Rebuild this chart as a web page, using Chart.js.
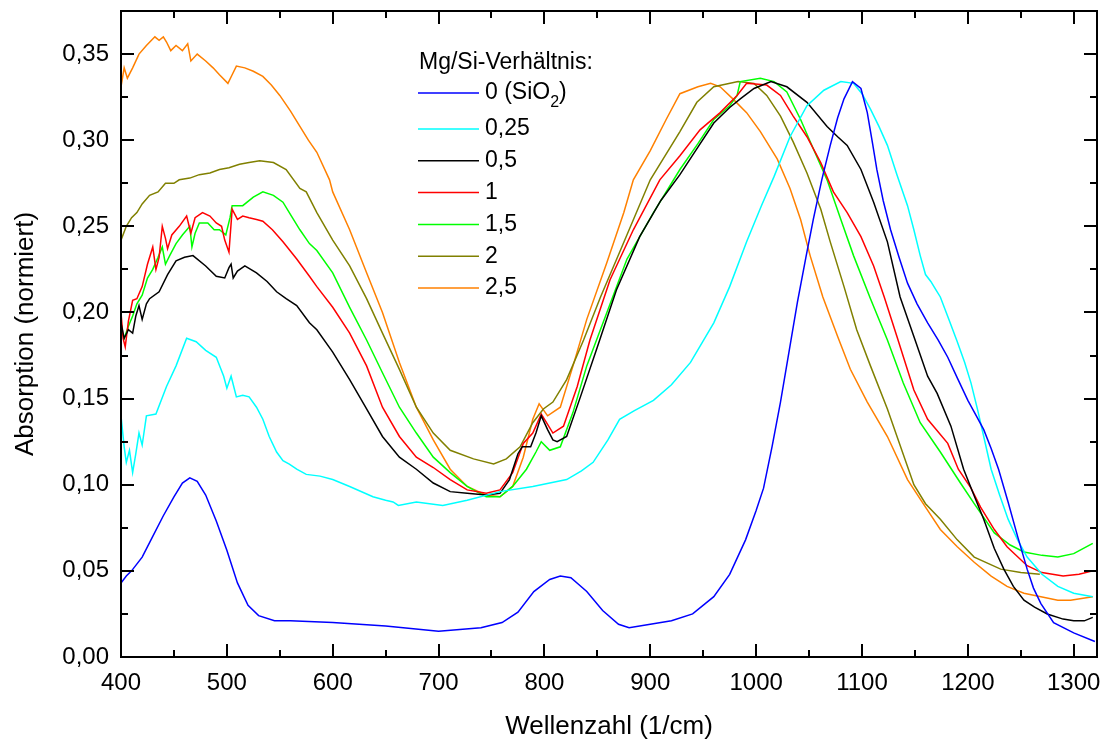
<!DOCTYPE html>
<html>
<head>
<meta charset="utf-8">
<script src="https://cdn.jsdelivr.net/npm/chart.js@4.4.0/dist/chart.umd.min.js"></script>
<style>
  body { margin: 0; background: #fff; }
  canvas { display: block; }
</style>
</head>
<body>
<canvas id="chart" width="1104" height="742"></canvas>
<script>
// Mg/Si ratio series
const seriesLabels = ['0 (SiO₂)', '0,25', '0,5', '1', '1,5', '2', '2,5'];
const seriesColors = ['#0000ff', '#00ffff', '#000000', '#ff0000', '#00ff00', '#808000', '#ff8000'];

const sio2X = [400, 405, 410, 420, 430, 440, 450, 458, 465, 472, 480, 490, 500, 510, 520, 530, 545, 560, 600, 650, 700, 740, 760, 775, 790, 805, 815, 825, 840, 855, 870, 880, 900, 920, 940, 960, 975, 990, 1000, 1007, 1015, 1023, 1031, 1039, 1047, 1054, 1062, 1070, 1077, 1083, 1091, 1099, 1105, 1110, 1114, 1120, 1127, 1135, 1143, 1152, 1162, 1172, 1181, 1190, 1200, 1208, 1215, 1222, 1229, 1238, 1247, 1256, 1262, 1269, 1281, 1300, 1320];
const sio2Y = [0.043, 0.047, 0.050, 0.058, 0.070, 0.082, 0.093, 0.101, 0.104, 0.102, 0.094, 0.079, 0.062, 0.043, 0.030, 0.024, 0.021, 0.021, 0.020, 0.018, 0.015, 0.017, 0.020, 0.026, 0.038, 0.045, 0.047, 0.046, 0.038, 0.027, 0.019, 0.017, 0.019, 0.021, 0.025, 0.035, 0.048, 0.068, 0.085, 0.098, 0.122, 0.148, 0.177, 0.206, 0.232, 0.254, 0.277, 0.297, 0.313, 0.324, 0.334, 0.330, 0.316, 0.298, 0.283, 0.265, 0.248, 0.232, 0.217, 0.205, 0.194, 0.184, 0.174, 0.162, 0.149, 0.140, 0.132, 0.121, 0.109, 0.090, 0.070, 0.051, 0.040, 0.031, 0.020, 0.014, 0.009];

const r025X = [400, 403, 405, 408, 411, 414, 417, 420, 424, 433, 443, 452, 462, 471, 480, 490, 497, 500, 504, 509, 515, 521, 528, 534, 540, 547, 553, 559, 566, 575, 588, 600, 616, 638, 650, 657, 662, 679, 704, 727, 758, 789, 821, 835, 846, 860, 871, 885, 903, 920, 938, 960, 975, 991, 1005, 1017, 1032, 1048, 1064, 1080, 1092, 1100, 1108, 1116, 1124, 1133, 1143, 1149, 1155, 1160, 1165, 1170, 1174, 1182, 1190, 1197, 1203, 1209, 1215, 1222, 1230, 1238, 1247, 1256, 1270, 1285, 1300, 1318];
const r025Y = [0.140, 0.122, 0.113, 0.120, 0.107, 0.118, 0.130, 0.123, 0.140, 0.141, 0.157, 0.169, 0.185, 0.183, 0.178, 0.174, 0.163, 0.156, 0.163, 0.151, 0.152, 0.151, 0.145, 0.138, 0.128, 0.119, 0.114, 0.112, 0.109, 0.106, 0.105, 0.103, 0.099, 0.093, 0.091, 0.090, 0.088, 0.090, 0.088, 0.091, 0.096, 0.099, 0.103, 0.108, 0.113, 0.126, 0.138, 0.143, 0.149, 0.158, 0.171, 0.194, 0.215, 0.241, 0.262, 0.279, 0.302, 0.320, 0.329, 0.334, 0.333, 0.327, 0.318, 0.308, 0.297, 0.280, 0.262, 0.248, 0.233, 0.222, 0.218, 0.213, 0.209, 0.196, 0.183, 0.171, 0.159, 0.144, 0.128, 0.109, 0.094, 0.080, 0.068, 0.058, 0.048, 0.041, 0.037, 0.035];

const r05X = [400, 403, 407, 411, 414, 417, 420, 424, 427, 436, 444, 452, 460, 468, 480, 490, 498, 502, 504, 506, 510, 517, 528, 538, 547, 556, 566, 578, 585, 600, 616, 632, 647, 663, 679, 695, 711, 727, 745, 758, 767, 775, 779, 787, 792, 797, 803, 808, 812, 821, 834, 850, 868, 890, 910, 928, 945, 960, 975, 985, 998, 1014, 1029, 1048, 1067, 1077, 1086, 1099, 1111, 1124, 1136, 1149, 1162, 1171, 1184, 1196, 1205, 1215, 1225, 1234, 1243, 1253, 1263, 1275, 1290, 1300, 1310, 1318];
const r05Y = [0.194, 0.185, 0.190, 0.188, 0.198, 0.204, 0.196, 0.205, 0.208, 0.212, 0.222, 0.230, 0.232, 0.233, 0.227, 0.221, 0.220, 0.226, 0.228, 0.220, 0.224, 0.227, 0.223, 0.218, 0.212, 0.208, 0.204, 0.194, 0.190, 0.177, 0.161, 0.144, 0.128, 0.116, 0.109, 0.101, 0.096, 0.095, 0.094, 0.095, 0.103, 0.118, 0.122, 0.122, 0.130, 0.140, 0.132, 0.126, 0.125, 0.128, 0.151, 0.180, 0.213, 0.244, 0.265, 0.280, 0.296, 0.310, 0.319, 0.324, 0.330, 0.334, 0.331, 0.322, 0.308, 0.302, 0.297, 0.283, 0.264, 0.241, 0.209, 0.186, 0.163, 0.153, 0.134, 0.109, 0.095, 0.080, 0.063, 0.051, 0.041, 0.033, 0.029, 0.025, 0.022, 0.021, 0.021, 0.023];

const r1X = [400, 402, 404, 407, 411, 415, 420, 425, 430, 433, 436, 439, 442, 444, 448, 455, 462, 466, 470, 477, 484, 490, 495, 498, 502, 505, 510, 515, 521, 528, 534, 543, 553, 566, 578, 585, 600, 616, 632, 647, 663, 679, 695, 711, 727, 745, 758, 770, 780, 789, 797, 803, 808, 818, 831, 843, 862, 884, 909, 928, 947, 966, 982, 991, 1010, 1023, 1035, 1048, 1061, 1073, 1086, 1099, 1111, 1121, 1133, 1149, 1162, 1181, 1191, 1203, 1212, 1225, 1237, 1256, 1270, 1290, 1305, 1318];
const r1Y = [0.200, 0.185, 0.180, 0.195, 0.207, 0.208, 0.215, 0.228, 0.238, 0.225, 0.232, 0.250, 0.243, 0.237, 0.245, 0.250, 0.256, 0.246, 0.255, 0.258, 0.256, 0.252, 0.250, 0.242, 0.235, 0.260, 0.254, 0.256, 0.255, 0.254, 0.253, 0.248, 0.241, 0.231, 0.221, 0.215, 0.203, 0.188, 0.169, 0.145, 0.128, 0.116, 0.110, 0.103, 0.097, 0.095, 0.097, 0.107, 0.124, 0.130, 0.141, 0.135, 0.130, 0.134, 0.157, 0.184, 0.219, 0.248, 0.277, 0.291, 0.306, 0.316, 0.326, 0.333, 0.332, 0.326, 0.314, 0.302, 0.287, 0.270, 0.258, 0.244, 0.227, 0.209, 0.186, 0.155, 0.138, 0.124, 0.109, 0.098, 0.087, 0.074, 0.064, 0.053, 0.049, 0.047, 0.048, 0.050];

const r15X = [400, 403, 407, 411, 415, 420, 425, 430, 435, 439, 442, 446, 452, 458, 465, 467, 470, 474, 482, 488, 493, 499, 503, 505, 515, 525, 534, 544, 553, 560, 569, 578, 585, 600, 616, 632, 647, 663, 679, 695, 711, 727, 745, 758, 770, 783, 792, 797, 805, 815, 827, 840, 859, 878, 903, 928, 945, 960, 975, 982, 985, 1004, 1017, 1029, 1042, 1054, 1067, 1080, 1092, 1108, 1124, 1139, 1155, 1174, 1193, 1206, 1225, 1240, 1253, 1270, 1285, 1300, 1318];
const r15Y = [0.190, 0.185, 0.192, 0.198, 0.205, 0.210, 0.220, 0.225, 0.232, 0.238, 0.228, 0.233, 0.240, 0.245, 0.250, 0.238, 0.246, 0.252, 0.252, 0.248, 0.248, 0.245, 0.255, 0.262, 0.262, 0.267, 0.270, 0.268, 0.264, 0.257, 0.248, 0.240, 0.236, 0.223, 0.203, 0.184, 0.165, 0.145, 0.130, 0.116, 0.107, 0.099, 0.093, 0.093, 0.099, 0.109, 0.119, 0.125, 0.120, 0.122, 0.142, 0.169, 0.200, 0.231, 0.258, 0.283, 0.298, 0.312, 0.320, 0.326, 0.334, 0.336, 0.334, 0.328, 0.312, 0.295, 0.277, 0.254, 0.233, 0.208, 0.184, 0.159, 0.136, 0.119, 0.101, 0.089, 0.072, 0.065, 0.061, 0.059, 0.058, 0.060, 0.066];

const r2X = [400, 405, 410, 415, 420, 427, 435, 442, 450, 455, 465, 474, 484, 493, 502, 512, 521, 531, 544, 556, 569, 575, 585, 600, 616, 632, 647, 663, 679, 695, 711, 733, 752, 764, 777, 789, 799, 808, 821, 837, 853, 871, 900, 928, 944, 960, 983, 998, 1010, 1023, 1035, 1048, 1061, 1070, 1083, 1095, 1108, 1124, 1149, 1160, 1174, 1190, 1206, 1231, 1250, 1268];
const r2Y = [0.242, 0.250, 0.255, 0.258, 0.263, 0.268, 0.270, 0.275, 0.275, 0.277, 0.278, 0.280, 0.281, 0.283, 0.284, 0.286, 0.287, 0.288, 0.287, 0.283, 0.272, 0.270, 0.258, 0.242, 0.227, 0.208, 0.188, 0.167, 0.145, 0.130, 0.120, 0.115, 0.112, 0.115, 0.122, 0.136, 0.144, 0.148, 0.161, 0.184, 0.209, 0.235, 0.277, 0.305, 0.322, 0.331, 0.334, 0.333, 0.326, 0.314, 0.299, 0.281, 0.260, 0.241, 0.215, 0.190, 0.169, 0.144, 0.100, 0.089, 0.080, 0.068, 0.058, 0.051, 0.049, 0.048];

const r25X = [400, 403, 406, 411, 417, 424, 432, 436, 440, 443, 447, 452, 458, 463, 466, 472, 480, 487, 493, 501, 505, 509, 517, 525, 534, 542, 550, 560, 569, 577, 585, 597, 600, 616, 632, 647, 663, 679, 695, 711, 727, 745, 758, 770, 780, 789, 795, 803, 815, 827, 840, 859, 875, 884, 900, 915, 928, 945, 957, 966, 978, 991, 1004, 1020, 1032, 1042, 1051, 1063, 1077, 1089, 1105, 1124, 1143, 1160, 1174, 1190, 1206, 1222, 1237, 1253, 1269, 1285, 1297, 1318];
const r25Y = [0.331, 0.342, 0.336, 0.342, 0.350, 0.355, 0.360, 0.358, 0.360, 0.357, 0.352, 0.355, 0.352, 0.356, 0.346, 0.350, 0.346, 0.342, 0.338, 0.333, 0.338, 0.343, 0.342, 0.340, 0.337, 0.332, 0.326, 0.317, 0.308, 0.300, 0.293, 0.277, 0.270, 0.248, 0.223, 0.200, 0.171, 0.145, 0.126, 0.109, 0.099, 0.094, 0.093, 0.099, 0.116, 0.138, 0.147, 0.140, 0.145, 0.169, 0.196, 0.229, 0.258, 0.277, 0.294, 0.312, 0.327, 0.331, 0.333, 0.331, 0.324, 0.316, 0.305, 0.289, 0.272, 0.254, 0.233, 0.209, 0.186, 0.167, 0.148, 0.128, 0.103, 0.087, 0.074, 0.064, 0.055, 0.047, 0.041, 0.037, 0.035, 0.033, 0.033, 0.035];

const seriesX = [sio2X, r025X, r05X, r1X, r15X, r2X, r25X];
const seriesY = [sio2Y, r025Y, r05Y, r1Y, r15Y, r2Y, r25Y];

const xMin = 400, xMax = 1322, xMajor = 100, xMinor = 50;
const yMin = 0, yMax = 0.375, yMajor = 0.05, yMinor = 0.025;

const FONT = "'Liberation Sans', Arial, sans-serif";

const datasets = seriesLabels.map((label, i) => ({
    label: label,
    data: seriesX[i].map((x, j) => ({ x: x, y: seriesY[i][j] })),
    borderColor: seriesColors[i],
    borderWidth: 1.5,
    pointRadius: 0,
    fill: false,
    tension: 0
}));

// frame with inward ticks on all four sides
const framePlugin = {
    id: 'frame',
    afterDatasetsDraw(chart) {
        const ctx = chart.ctx;
        const a = chart.chartArea;
        const xs = chart.scales.x, ys = chart.scales.y;
        ctx.save();
        ctx.strokeStyle = '#000';
        ctx.lineWidth = 2;
        ctx.strokeRect(a.left, a.top, a.right - a.left, a.bottom - a.top);
        ctx.beginPath();
        for (let v = xMin; v <= xMax; v += xMinor) {
            const px = Math.round(xs.getPixelForValue(v));
            const len = (v % xMajor === 0) ? 13 : 7;
            ctx.moveTo(px, a.bottom); ctx.lineTo(px, a.bottom - len);
            ctx.moveTo(px, a.top); ctx.lineTo(px, a.top + len);
        }
        for (let k = 0; yMin + k * yMinor <= yMax + 1e-9; k++) {
            const py = Math.round(ys.getPixelForValue(yMin + k * yMinor));
            const len = (k % 2 === 0) ? 13 : 7;
            ctx.moveTo(a.left, py); ctx.lineTo(a.left + len, py);
            ctx.moveTo(a.right, py); ctx.lineTo(a.right - len, py);
        }
        ctx.stroke();
        ctx.restore();
    }
};

// legend inside the plot, drawn from the dataset labels and colours
const legendPlugin = {
    id: 'innerLegend',
    afterDraw(chart) {
        const ctx = chart.ctx;
        ctx.save();
        ctx.font = '23px ' + FONT;
        ctx.fillStyle = '#000';
        ctx.textBaseline = 'middle';
        ctx.fillText('Mg/Si-Verhältnis:', 419, 63);
        chart.data.datasets.forEach((ds, i) => {
            const y = i === 0 ? 93 : 129 + (i - 1) * 31.8;
            ctx.strokeStyle = ds.borderColor;
            ctx.lineWidth = 1.5;
            ctx.beginPath();
            ctx.moveTo(418, y); ctx.lineTo(479, y);
            ctx.stroke();
            let x = 485;
            for (const ch of ds.label) {
                if (ch === '₂') {
                    ctx.font = '16px ' + FONT;
                    ctx.fillText('2', x, y + 10);
                    x += ctx.measureText('2').width;
                    ctx.font = '23px ' + FONT;
                } else {
                    ctx.fillText(ch, x, y);
                    x += ctx.measureText(ch).width;
                }
            }
        });
        ctx.restore();
    }
};

new Chart(document.getElementById('chart'), {
    type: 'line',
    data: { datasets: datasets },
    options: {
        responsive: false,
        animation: false,
        layout: { padding: { left: 0, right: 7, top: 11, bottom: 0 } },
        plugins: { legend: { display: false }, tooltip: { enabled: false } },
        scales: {
            x: {
                type: 'linear',
                min: xMin,
                max: xMax,
                grid: { display: false, drawTicks: false },
                border: { display: false },
                ticks: {
                    stepSize: xMajor,
                    includeBounds: false,
                    color: '#000',
                    padding: 12,
                    maxRotation: 0,
                    font: { family: FONT, size: 24 },
                    callback: v => String(v)
                },
                title: {
                    display: true,
                    text: 'Wellenzahl (1/cm)',
                    color: '#000',
                    font: { family: FONT, size: 26 },
                    padding: { top: 6, bottom: 0 }
                },
                afterFit(scale) {
                    scale.height = 85;
                    scale.paddingLeft = 0;
                    scale.paddingRight = 0;
                }
            },
            y: {
                min: yMin,
                max: yMax,
                grid: { display: false, drawTicks: false },
                border: { display: false },
                ticks: {
                    stepSize: yMajor,
                    includeBounds: false,
                    color: '#000',
                    padding: 12,
                    font: { family: FONT, size: 24 },
                    callback: v => v.toFixed(2).replace('.', ',')
                },
                title: {
                    display: true,
                    text: 'Absorption (normiert)',
                    color: '#000',
                    font: { family: FONT, size: 26 },
                    padding: { top: 10, bottom: 0 }
                },
                afterFit(scale) {
                    scale.width = 121;
                    scale.paddingTop = 0;
                    scale.paddingBottom = 0;
                }
            }
        }
    },
    plugins: [framePlugin, legendPlugin]
});
</script>
</body>
</html>
